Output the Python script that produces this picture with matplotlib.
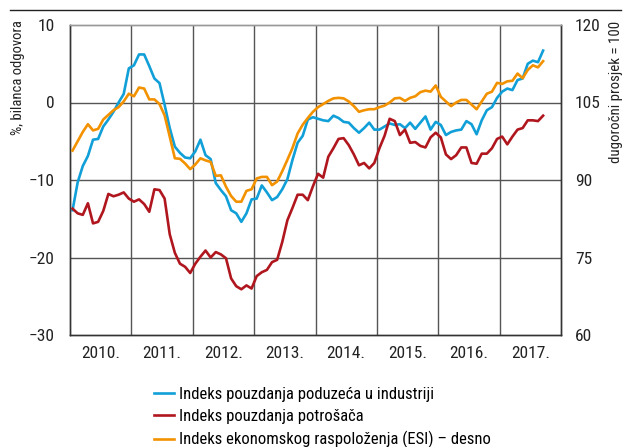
import matplotlib
matplotlib.use("Agg")
import matplotlib.pyplot as plt
from matplotlib import font_manager
from matplotlib.lines import Line2D
import numpy as np

names = {f.name for f in font_manager.fontManager.ttflist}
font = "Liberation Sans"
for cand in ["Liberation Sans Narrow", "Roboto Condensed", "Open Sans Condensed"]:
    if cand in names:
        font = cand
        break
plt.rcParams["font.family"] = [font, "DejaVu Sans"]

years = [2010, 2011, 2012, 2013, 2014, 2015, 2016, 2017]
year_labels = [f"{y}." for y in years]

# monthly, Jan 2010 - Sep 2017
industry = [-13.9, -10.3, -8.2, -6.9, -4.8, -4.7, -3.1, -2.2, -1.2, 0.0, 1.1, 4.4,
            4.8, 6.2, 6.2, 4.7, 3.1, 2.5, -0.3, -3.3, -5.7, -6.5, -7.1, -7.2,
            -6.3, -4.8, -6.8, -7.3, -10.4, -11.3, -12.1, -13.9, -14.3, -15.4, -14.3, -12.5,
            -12.4, -10.7, -11.6, -12.6, -12.2, -11.2, -9.9, -7.4, -5.2, -4.3, -2.2, -1.9,
            -2.1, -2.3, -2.4, -1.7, -2.0, -2.5, -2.6, -3.3, -3.9, -3.3, -2.6, -3.5,
            -3.5, -3.1, -2.7, -2.9, -2.8, -3.3, -2.6, -3.4, -2.6, -1.8, -3.5, -2.5,
            -2.9, -4.2, -3.8, -3.6, -3.5, -2.4, -2.8, -4.1, -2.3, -1.0, -0.6, 0.6,
            1.4, 1.8, 1.6, 2.9, 3.1, 5.0, 5.4, 5.2, 6.7]

consumer = [-13.7, -14.3, -14.5, -13.0, -15.6, -15.4, -14.0, -11.8, -12.1, -11.9, -11.6, -12.4,
            -12.8, -12.5, -13.1, -14.1, -11.2, -11.3, -12.4, -17.0, -19.4, -20.8, -21.2, -22.0,
            -20.8, -19.9, -19.1, -20.0, -19.3, -19.6, -20.1, -22.7, -23.7, -24.1, -23.6, -24.0,
            -22.4, -21.9, -21.6, -20.6, -20.3, -18.0, -15.2, -13.6, -11.9, -11.9, -12.6, -10.8,
            -9.2, -9.7, -7.0, -5.9, -4.7, -4.6, -5.5, -6.7, -8.1, -7.8, -8.5, -7.8,
            -5.9, -4.3, -2.1, -2.4, -4.2, -3.5, -5.2, -5.1, -5.6, -5.8, -4.5, -3.9,
            -4.5, -6.7, -7.3, -6.8, -5.8, -5.8, -7.8, -7.9, -6.6, -6.6, -5.9, -4.7,
            -4.4, -5.4, -4.4, -3.5, -3.3, -2.3, -2.3, -2.4, -1.7]

esi = [95.7, 97.5, 99.3, 100.8, 99.6, 99.9, 101.7, 102.6, 103.5, 104.1, 105.2, 106.7,
       106.2, 107.9, 107.7, 105.6, 105.6, 104.7, 102.5, 98.4, 94.2, 94.1, 93.2, 92.1,
       93.0, 94.2, 93.8, 93.5, 90.8, 90.9, 88.7, 86.9, 85.8, 85.8, 87.9, 88.2,
       90.3, 90.6, 90.6, 89.0, 89.7, 91.7, 93.9, 96.2, 99.0, 100.7, 102.0, 103.2,
       104.1, 104.7, 105.3, 105.8, 105.9, 105.8, 105.2, 104.3, 103.2, 103.5, 103.7, 103.7,
       104.1, 104.4, 105.0, 105.8, 105.9, 105.3, 105.9, 106.2, 107.0, 107.3, 107.1, 108.3,
       106.1, 105.2, 104.3, 105.0, 105.5, 105.5, 104.6, 103.7, 105.2, 106.7, 107.1, 108.8,
       108.6, 109.1, 109.2, 110.6, 109.7, 111.3, 112.2, 111.8, 113.0]

labels = ["Indeks pouzdanja poduzeća u industriji",
          "Indeks pouzdanja potrošača",
          "Indeks ekonomskog raspoloženja (ESI) – desno"]
colors = ["#119fd8", "#b0161e", "#f39200"]

x = np.arange(len(industry)) + 0.5

fig = plt.figure(figsize=(6.25, 4.47), dpi=100)
ax = fig.add_axes([70 / 625, 1 - 335 / 447, 491 / 625, 310 / 447])
ax2 = ax.twinx()

grid_c = "#555555"
for k in range(1, len(years)):
    ax.axvline(12 * k, color=grid_c, lw=1.0, zorder=1)
for v in [0, -10, -20]:
    ax.axhline(v, color=grid_c, lw=1.0, zorder=1)

l1, = ax.plot(x, industry, color=colors[0], lw=1.9, zorder=3)
l2, = ax.plot(x, consumer, color=colors[1], lw=1.9, zorder=3)
l3, = ax2.plot(x, esi, color=colors[2], lw=1.9, zorder=3)

ax.set_xlim(0, 12 * len(years))
ax.set_ylim(-30, 10)
ax2.set_ylim(60, 120)
ax.set_yticks([10, 0, -10, -20, -30])
ax.set_yticklabels(["10", "0", "\u221210", "\u221220", "\u221230"])
ax2.set_yticks([120, 105, 90, 75, 60])
ax.set_xticks([12 * i + 6 for i in range(len(years))])
ax.set_xticklabels(year_labels)

for a in (ax, ax2):
    a.tick_params(length=0, labelsize=12.5, colors="#222222")
    for s in a.spines.values():
        s.set_color("#333333")
        s.set_linewidth(1.0)
    a.spines["top"].set_color("#999999")
ax.tick_params(axis="y", pad=11)
ax2.tick_params(axis="y", pad=10)
ax.tick_params(axis="x", pad=8)

fig.text(18 / 625, 1 - 78 / 447, "%, bilanca odgovora", rotation=90,
         ha="center", va="center", fontsize=10.5, color="#222222")
fig.text(616 / 625, 1 - 92 / 447, "dugoročni prosjek = 100", rotation=90,
         ha="center", va="center", fontsize=10.7, color="#222222")

fig.add_artist(Line2D([10 / 625, 621 / 625], [1 - 10 / 447, 1 - 10 / 447],
                      color="#222222", lw=1.0))

fig.legend([l1, l2, l3], labels, loc="upper left",
           bbox_to_anchor=(154 / 625, 1 - 387 / 447), frameon=False,
           fontsize=12, handlelength=1.2, handletextpad=0.3,
           labelspacing=0.42, borderpad=0, borderaxespad=0)

fig.savefig("out.png", dpi=100)
